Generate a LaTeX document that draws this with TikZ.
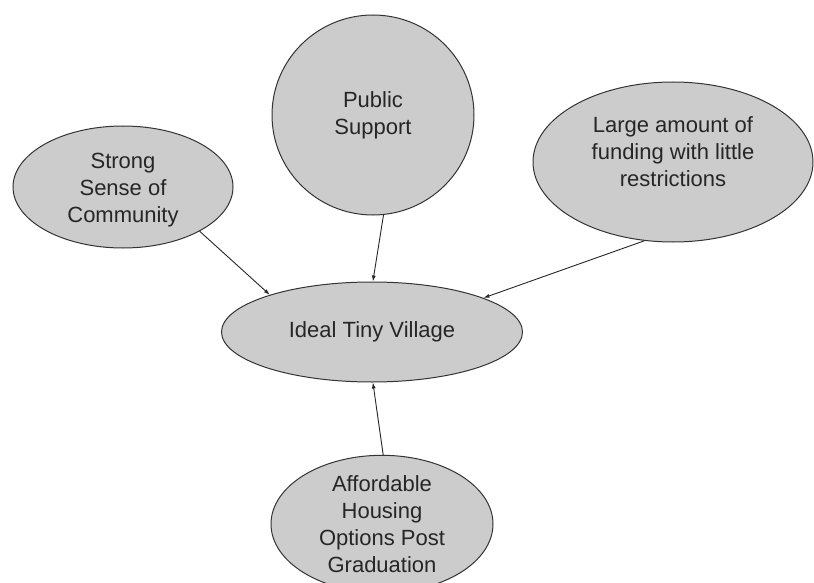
\documentclass[tikz,border=0pt]{standalone}
\usepackage{fontspec}
\setmainfont{Liberation Sans}
\usetikzlibrary{arrows.meta,shapes.geometric}
\definecolor{bubblegray}{HTML}{CCCCCC}
\begin{document}
\begin{tikzpicture}[x=1pt,y=-1pt,
		bubble/.style={ellipse,draw=black!80,line width=1pt,fill=bubblegray,inner sep=0pt,
			align=center,text=black!85,font=\fontsize{22}{27}\selectfont},
		bubtext/.style={align=center,text=black!85,font=\fontsize{22}{27}\selectfont},
		link/.style={-{Latex[length=6pt,width=4pt]},line width=0.9pt,draw=black!85}]
		\useasboundingbox (0,0) rectangle (814,583);
		\node[bubble,minimum width=220pt,minimum height=122pt,
			label={[bubtext,yshift=-3pt]center:{Strong\\Sense of\\Community}}] (community) at (123,187) {};
		\node[bubble,minimum width=202pt,minimum height=200pt] (support) at (373,115) {Public\\Support};
		\node[bubble,minimum width=280pt,minimum height=160pt,
			label={[bubtext,yshift=10pt]center:{Large amount of\\funding with little\\restrictions}}] (funding) at (673,162) {};
		\node[bubble,minimum width=301pt,minimum height=100pt] (village) at (372,332) {Ideal Tiny Village};
		\node[bubble,minimum width=222pt,minimum height=112pt] (housing) at (382,524) {Affordable\\Housing\\Options Post\\Graduation};
		\draw[link] (community.-30) -- (village.160.9);
		\draw[link] (support.-84.9) -- (village.89);
		\draw[link] (funding.-110.8) -- (village.17.7);
		\draw[link] (housing.89) -- (village.-89);
\end{tikzpicture}
\end{document}
